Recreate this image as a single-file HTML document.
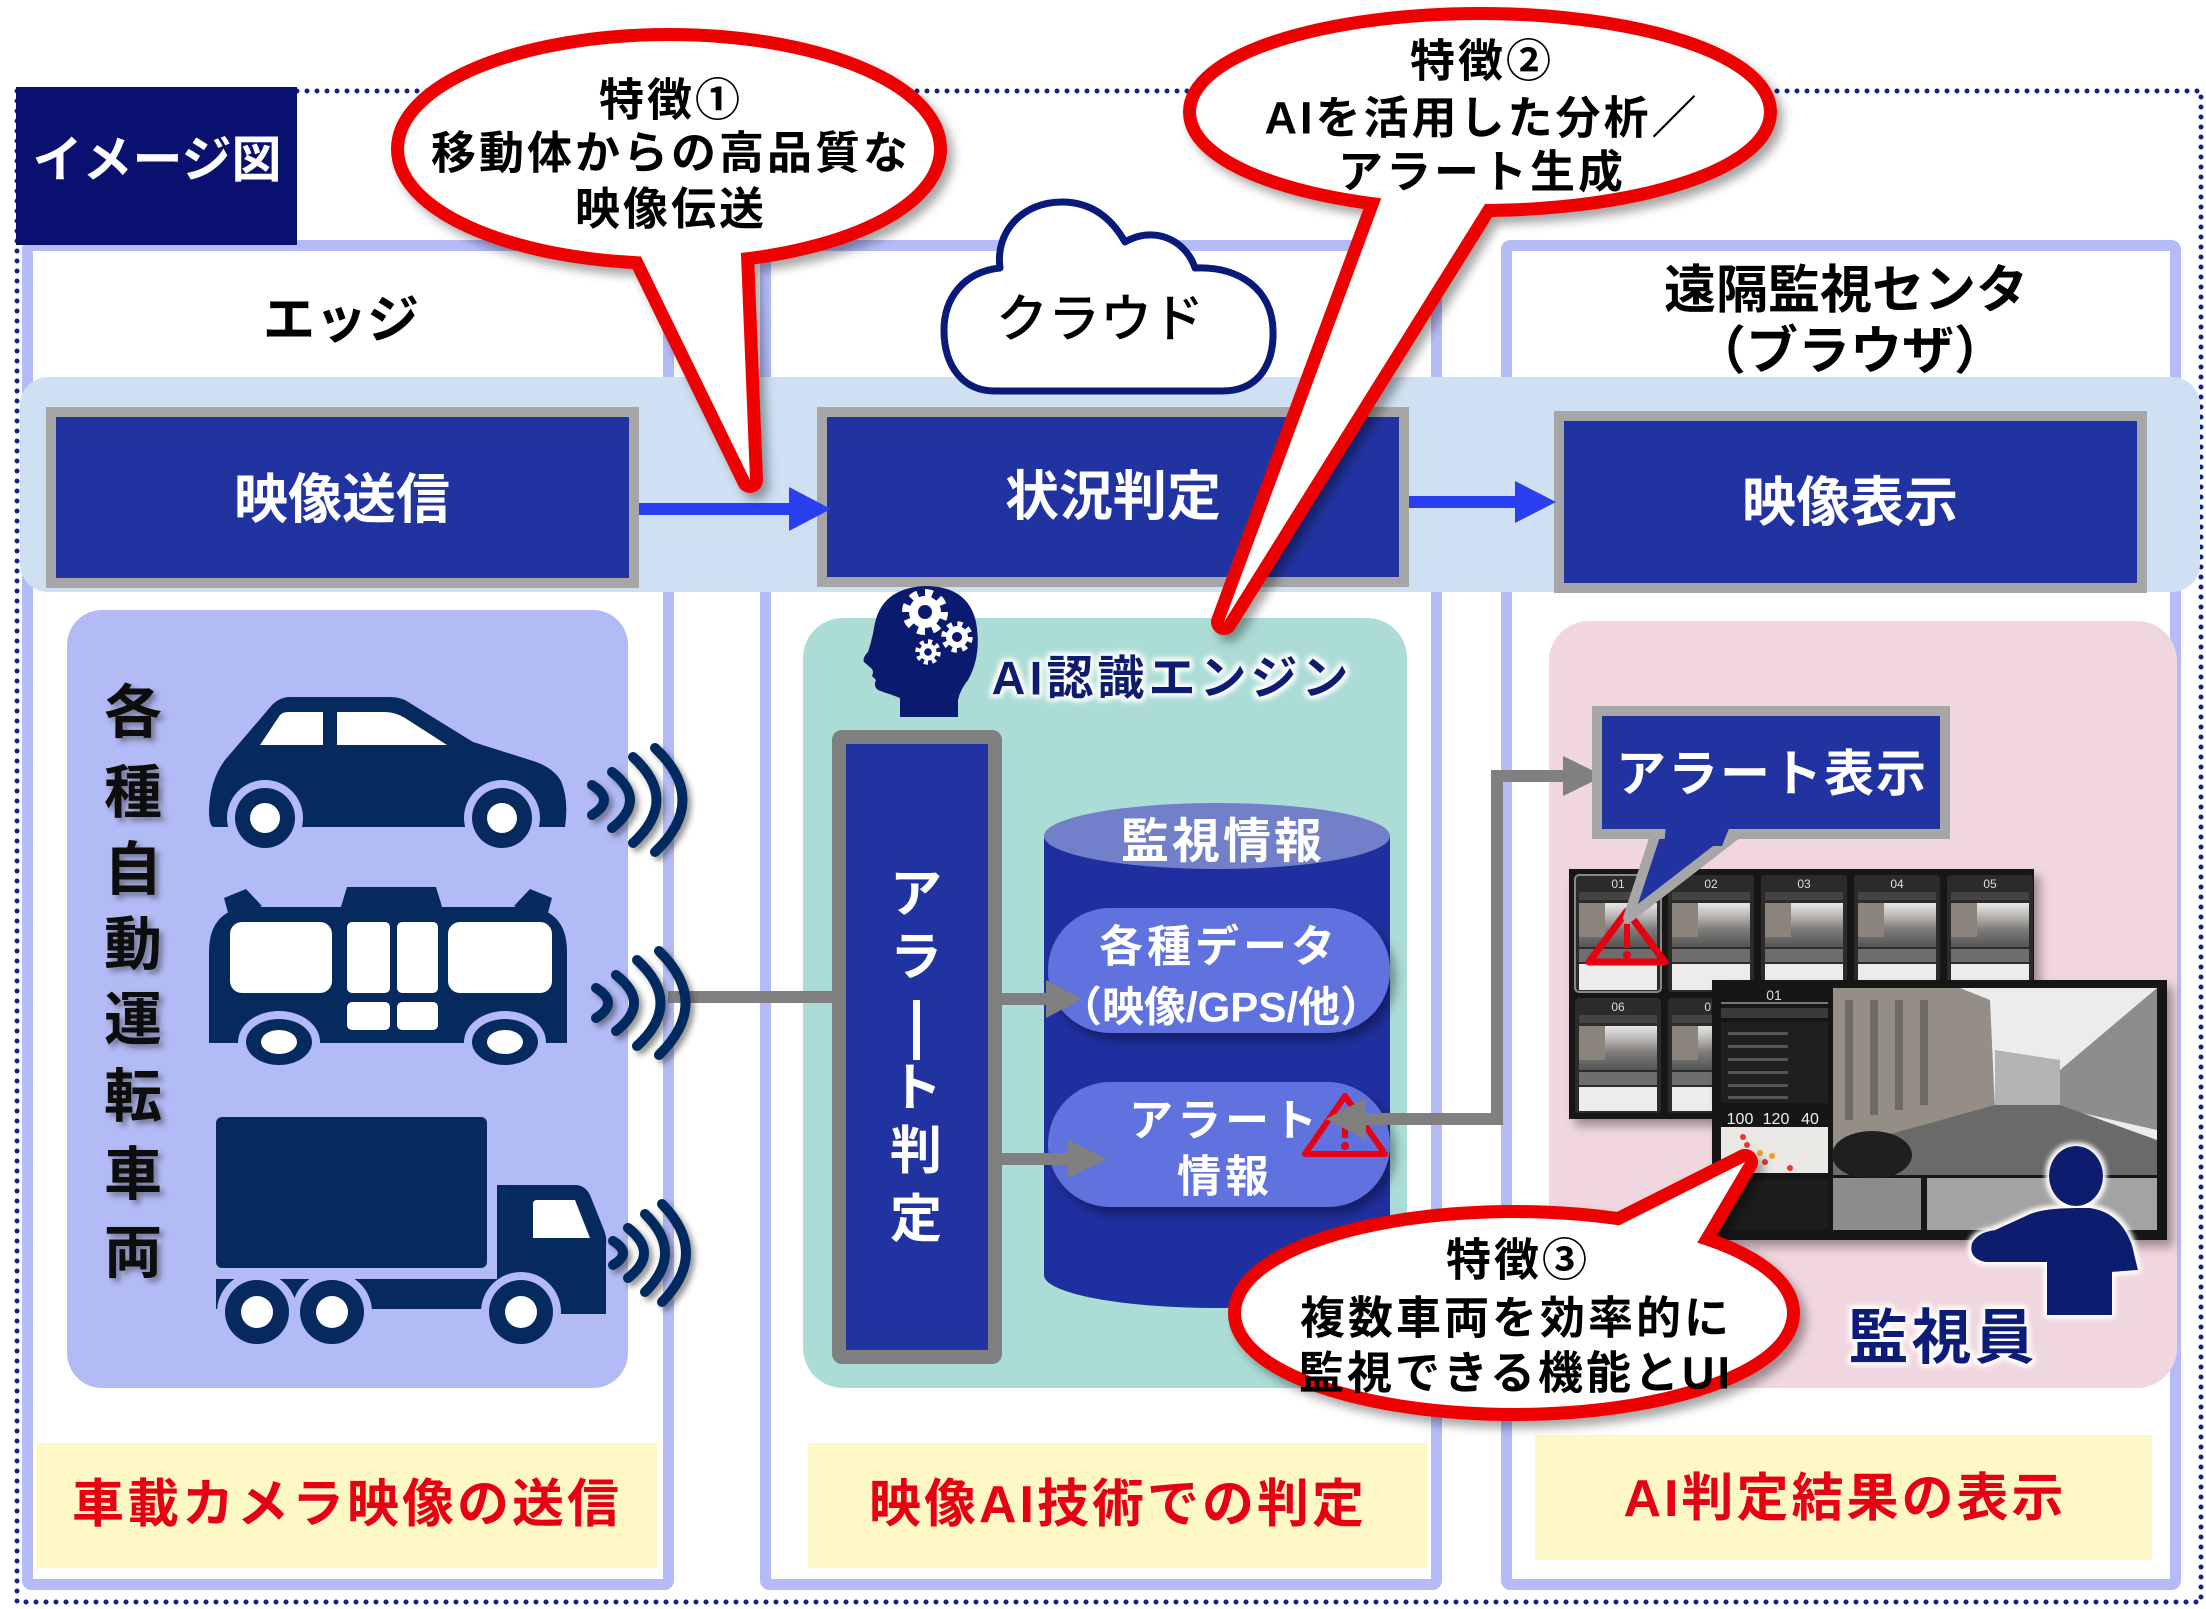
<!DOCTYPE html>
<html><head><meta charset="utf-8">
<style>
html,body{margin:0;padding:0;background:#fff;}
svg{display:block;}
text{font-family:"Liberation Sans","Noto Sans CJK JP",sans-serif;}
</style></head>
<body>
<svg width="2206" height="1609" viewBox="0 0 2206 1609" xmlns="http://www.w3.org/2000/svg">
<defs>
  <filter id="sh" x="-20%" y="-20%" width="150%" height="150%">
    <feGaussianBlur in="SourceAlpha" stdDeviation="5"/>
    <feOffset dx="6" dy="7" result="o"/>
    <feFlood flood-color="#000" flood-opacity="0.35"/>
    <feComposite in2="o" operator="in"/>
    <feMerge><feMergeNode/><feMergeNode in="SourceGraphic"/></feMerge>
  </filter>
  <filter id="tsh" x="-30%" y="-30%" width="160%" height="160%">
    <feGaussianBlur in="SourceAlpha" stdDeviation="3"/>
    <feOffset dx="4" dy="4" result="o"/>
    <feFlood flood-color="#333" flood-opacity="0.5"/>
    <feComposite in2="o" operator="in"/>
    <feMerge><feMergeNode/><feMergeNode in="SourceGraphic"/></feMerge>
  </filter>
  <filter id="glow" x="-20%" y="-30%" width="140%" height="160%">
    <feMorphology in="SourceAlpha" operator="dilate" radius="2"/>
    <feGaussianBlur stdDeviation="3" result="b"/>
    <feFlood flood-color="#fff"/>
    <feComposite in2="b" operator="in"/>
    <feMerge><feMergeNode/><feMergeNode/><feMergeNode in="SourceGraphic"/></feMerge>
  </filter>
  <linearGradient id="street" x1="0" y1="0" x2="0" y2="1">
    <stop offset="0" stop-color="#e8e8e8"/>
    <stop offset="0.3" stop-color="#b9b6b2"/>
    <stop offset="0.6" stop-color="#7d7c7a"/>
    <stop offset="1" stop-color="#555"/>
  </linearGradient>
</defs>

<!-- dotted outer border -->
<rect x="17" y="91" width="2184" height="1511" fill="none" stroke="#12208a" stroke-width="5" stroke-dasharray="0 10" stroke-linecap="round"/>

<!-- columns -->
<rect x="27.5" y="245.5" width="641" height="1339" rx="4" fill="#fff" stroke="#b4bbf7" stroke-width="11"/>
<rect x="765.5" y="245.5" width="671" height="1339" rx="4" fill="#fff" stroke="#b4bbf7" stroke-width="11"/>
<rect x="1506.5" y="245.5" width="669" height="1339" rx="4" fill="#fff" stroke="#b4bbf7" stroke-width="11"/>

<!-- title box -->
<rect x="16" y="87" width="281" height="158" fill="#0a1070"/>
<text x="157" y="160" font-size="50" font-weight="bold" fill="#fff" text-anchor="middle" dominant-baseline="central">イメージ図</text>

<!-- headers -->
<text x="341" y="321" font-size="52" font-weight="bold" fill="#000" text-anchor="middle" dominant-baseline="central">エッジ</text>
<text x="1846" y="291" font-size="52" font-weight="bold" fill="#000" text-anchor="middle" dominant-baseline="central">遠隔監視センタ</text>
<text x="1850" y="352" font-size="52" font-weight="bold" fill="#000" text-anchor="middle" dominant-baseline="central">（ブラウザ）</text>

<!-- band -->
<rect x="20" y="377" width="2180" height="215" rx="28" fill="#cfe0f2"/>

<!-- cloud -->
<path d="M995,391 L1222,391 C1262,391 1274,360 1273,330 C1272,290 1240,266 1195,268 C1185,238 1152,226 1125,242 C1108,212 1085,202 1062,202 C1022,202 995,232 1000,268 C962,272 944,300 944,330 C944,365 962,391 995,391 Z" fill="#fff" stroke="#0a1a7a" stroke-width="7" stroke-linejoin="round"/>
<text x="1100" y="320" font-size="52" font-weight="500" fill="#000" text-anchor="middle" dominant-baseline="central">クラウド</text>

<!-- top boxes -->
<rect x="51" y="412" width="583" height="171" fill="#2133a1" stroke="#a6a6a6" stroke-width="10"/>
<text x="342" y="500" font-size="54" font-weight="bold" fill="#fff" text-anchor="middle" dominant-baseline="central">映像送信</text>
<rect x="822" y="412" width="582" height="170" fill="#2133a1" stroke="#a6a6a6" stroke-width="10"/>
<text x="1113" y="497" font-size="54" font-weight="bold" fill="#fff" text-anchor="middle" dominant-baseline="central">状況判定</text>
<rect x="1559" y="416" width="583" height="172" fill="#2133a1" stroke="#a6a6a6" stroke-width="10"/>
<text x="1850" y="503" font-size="54" font-weight="bold" fill="#fff" text-anchor="middle" dominant-baseline="central">映像表示</text>

<!-- blue arrows -->
<line x1="639" y1="509" x2="795" y2="509" stroke="#2a3ff0" stroke-width="12"/>
<polygon points="789,487 831,509 789,531" fill="#2a3ff0"/>
<line x1="1409" y1="502" x2="1520" y2="502" stroke="#2a3ff0" stroke-width="12"/>
<polygon points="1515,481 1556,502 1515,523" fill="#2a3ff0"/>

<!-- panels -->
<rect x="67" y="610" width="561" height="778" rx="35" fill="#b3bbf7"/>
<rect x="803" y="618" width="604" height="770" rx="40" fill="#acdcd6"/>
<rect x="1549" y="621" width="628" height="767" rx="40" fill="#f0d6df"/>

<!-- yellow boxes -->
<rect x="36" y="1443" width="621" height="125" fill="#fef7c6"/>
<text x="347" y="1505" font-size="52" font-weight="bold" fill="#e60012" text-anchor="middle" dominant-baseline="central" letter-spacing="3">車載カメラ映像の送信</text>
<rect x="808" y="1443" width="619" height="125" fill="#fef7c6"/>
<text x="1118" y="1505" font-size="52" font-weight="bold" fill="#e60012" text-anchor="middle" dominant-baseline="central" letter-spacing="3">映像AI技術での判定</text>
<rect x="1535" y="1435" width="617" height="125" fill="#fef7c6"/>
<text x="1845" y="1499" font-size="52" font-weight="bold" fill="#e60012" text-anchor="middle" dominant-baseline="central" letter-spacing="3">AI判定結果の表示</text>

<!-- vertical text vehicles -->
<g filter="url(#tsh)" font-size="58" font-weight="bold" fill="#111" text-anchor="middle">
  <text x="133" y="713" dominant-baseline="central">各</text>
  <text x="133" y="793" dominant-baseline="central">種</text>
  <text x="133" y="870" dominant-baseline="central">自</text>
  <text x="133" y="945" dominant-baseline="central">動</text>
  <text x="133" y="1020" dominant-baseline="central">運</text>
  <text x="133" y="1097" dominant-baseline="central">転</text>
  <text x="133" y="1175" dominant-baseline="central">車</text>
  <text x="133" y="1253" dominant-baseline="central">両</text>
</g>

<!-- gray connector from bus -->
<line x1="668" y1="997" x2="840" y2="997" stroke="#808080" stroke-width="12"/>

<!-- car -->
<path d="M214,827 L565,827 Q569,800 561,781 Q552,766 530,760 L473,742 L405,700 Q398,697 390,697 L290,697 Q280,697 272,705 L225,760 Q210,780 209,810 Q209,827 214,827 Z" fill="#062a5e"/>
<path d="M260,745 L280,715 Q283,712 288,712 L323,712 L323,745 Z" fill="#fff"/>
<path d="M337,712 L385,712 Q395,712 405,718 L447,745 L337,745 Z" fill="#fff"/>
<circle cx="265" cy="818" r="38" fill="#b3bbf7"/><circle cx="265" cy="818" r="30" fill="#062a5e"/><circle cx="265" cy="818" r="15" fill="#fff"/>
<circle cx="502" cy="818" r="38" fill="#b3bbf7"/><circle cx="502" cy="818" r="30" fill="#062a5e"/><circle cx="502" cy="818" r="15" fill="#fff"/>

<!-- bus -->
<g fill="#062a5e">
  <path d="M209,1043 L209,952 Q209,907 254,907 L522,907 Q567,907 567,952 L567,1043 Z"/>
  <path d="M340,910 L347,887 L436,887 L443,910 Z"/>
  <path d="M230,920 L224,898 L246,889 L262,906 Z"/>
  <path d="M546,920 L552,898 L530,889 L514,906 Z"/>
</g>
<rect x="230" y="922" width="102" height="71" rx="12" fill="#fff"/>
<rect x="347" y="922" width="43" height="71" rx="5" fill="#fff"/>
<rect x="397" y="922" width="41" height="71" rx="5" fill="#fff"/>
<rect x="347" y="1002" width="43" height="28" rx="5" fill="#fff"/>
<rect x="397" y="1002" width="41" height="28" rx="5" fill="#fff"/>
<rect x="448" y="922" width="104" height="71" rx="12" fill="#fff"/>
<ellipse cx="279" cy="1042" rx="41" ry="31" fill="#b3bbf7"/><ellipse cx="279" cy="1042" rx="33" ry="23" fill="#062a5e"/><ellipse cx="279" cy="1042" rx="18" ry="12" fill="#fff"/>
<ellipse cx="505" cy="1042" rx="41" ry="31" fill="#b3bbf7"/><ellipse cx="505" cy="1042" rx="33" ry="23" fill="#062a5e"/><ellipse cx="505" cy="1042" rx="18" ry="12" fill="#fff"/>

<!-- truck -->
<g fill="#062a5e">
  <rect x="216" y="1117" width="271" height="151" rx="6"/>
  <path d="M497,1185 L575,1185 Q585,1185 590,1195 L604,1230 Q607,1237 606,1246 L606,1314 L497,1314 Z"/>
  <rect x="216" y="1279" width="390" height="30"/>
</g>
<path d="M533,1204 Q533,1200 537,1200 L575,1200 L590,1238 L533,1238 Z" fill="#fff"/>
<circle cx="257" cy="1312" r="40" fill="#b3bbf7"/><circle cx="257" cy="1312" r="32" fill="#062a5e"/><circle cx="257" cy="1312" r="16" fill="#fff"/>
<circle cx="332" cy="1312" r="40" fill="#b3bbf7"/><circle cx="332" cy="1312" r="32" fill="#062a5e"/><circle cx="332" cy="1312" r="16" fill="#fff"/>
<circle cx="521" cy="1312" r="40" fill="#b3bbf7"/><circle cx="521" cy="1312" r="32" fill="#062a5e"/><circle cx="521" cy="1312" r="16" fill="#fff"/>

<!-- waves -->
<g fill="none" stroke="#062a5e" stroke-width="10" stroke-linecap="round" filter="url(#tsh)">
  <path d="M592,785 Q616,800 592,815"/>
  <path d="M612,772 Q648,800 612,828"/>
  <path d="M633,757 Q680,800 633,843"/>
  <path d="M655,748 Q710,800 655,852"/>
  <path d="M596,988 Q620,1003 596,1018"/>
  <path d="M616,975 Q652,1003 616,1031"/>
  <path d="M637,960 Q684,1003 637,1046"/>
  <path d="M659,951 Q712,1003 659,1055"/>
  <path d="M613,1241 Q633,1253 613,1265"/>
  <path d="M628,1228 Q660,1253 628,1278"/>
  <path d="M645,1214 Q685,1253 645,1292"/>
  <path d="M662,1204 Q710,1253 662,1302"/>
</g>

<!-- head icon -->
<path d="M900,717 L900,698 Q890,694 886,693 L878,690 Q873,686 876,680 L872,676 Q874,672 872,669 L864,662 Q862,658 868,652 Q872,640 874,628 Q880,588 925,586 Q968,586 976,622 Q982,655 968,680 Q960,690 958,700 L958,717 Z" fill="#0a1a6e"/>
<g>
  <circle cx="925" cy="612" r="16" fill="#fff"/>
  <circle cx="925" cy="612" r="19" fill="none" stroke="#fff" stroke-width="8" stroke-dasharray="7.5 7.4"/>
  <circle cx="925" cy="612" r="7" fill="#0a1a6e"/>
  <circle cx="957" cy="637" r="11" fill="#fff"/>
  <circle cx="957" cy="637" r="13" fill="none" stroke="#fff" stroke-width="5.5" stroke-dasharray="5.1 5.1"/>
  <circle cx="957" cy="637" r="5" fill="#0a1a6e"/>
  <circle cx="928" cy="652" r="8.5" fill="#fff"/>
  <circle cx="928" cy="652" r="10.5" fill="none" stroke="#fff" stroke-width="4.5" stroke-dasharray="4.1 4.1"/>
  <circle cx="928" cy="652" r="3.8" fill="#0a1a6e"/>
</g>
<text x="1172" y="678" font-size="47" font-weight="bold" fill="#0d1a70" text-anchor="middle" dominant-baseline="central" letter-spacing="4" filter="url(#glow)">AI認識エンジン</text>

<!-- alert judge box -->
<rect x="839" y="737" width="156" height="620" rx="3" fill="#2133a1" stroke="#7f7f7f" stroke-width="14"/>
<g font-size="52" font-weight="bold" fill="#fff" text-anchor="middle">
  <text x="916" y="895" dominant-baseline="central">ア</text>
  <text x="916" y="958" dominant-baseline="central">ラ</text>
  <text x="916" y="1089" dominant-baseline="central">ト</text>
  <text x="916" y="1152" dominant-baseline="central">判</text>
  <text x="916" y="1220" dominant-baseline="central">定</text>
</g>
<rect x="913" y="1000" width="7" height="60" fill="#fff"/>

<!-- cylinder -->
<path d="M1044,836 L1044,1275 A173,33 0 0,0 1390,1275 L1390,836 Z" fill="#1f2f9f"/>
<ellipse cx="1217" cy="836" rx="173" ry="33" fill="#7180c9"/>
<text x="1223" y="842" font-size="48" font-weight="bold" fill="#fff" text-anchor="middle" dominant-baseline="central" letter-spacing="3">監視情報</text>
<g filter="url(#sh)">
  <rect x="1048" y="908" width="342" height="125" rx="62" fill="#6172dd"/>
  <rect x="1048" y="1082" width="342" height="125" rx="62" fill="#6172dd"/>
</g>
<text x="1219" y="947" font-size="44" font-weight="bold" fill="#fff" text-anchor="middle" dominant-baseline="central" letter-spacing="4">各種データ</text>
<text x="1221" y="1007" font-size="42" font-weight="bold" fill="#fff" text-anchor="middle" dominant-baseline="central">（映像/GPS/他）</text>
<text x="1225" y="1121" font-size="44" font-weight="bold" fill="#fff" text-anchor="middle" dominant-baseline="central" letter-spacing="4">アラート</text>
<text x="1225" y="1177" font-size="44" font-weight="bold" fill="#fff" text-anchor="middle" dominant-baseline="central" letter-spacing="4">情報</text>
<polygon points="1345,1096 1385,1154 1305,1154" fill="none" stroke="#e60012" stroke-width="6" stroke-linejoin="round"/>
<rect x="1342" y="1110" width="6" height="28" fill="#e60012"/>
<circle cx="1345" cy="1146" r="4" fill="#e60012"/>

<!-- gray arrows in cloud column -->
<line x1="1002" y1="999" x2="1050" y2="999" stroke="#808080" stroke-width="12"/>
<polygon points="1046,980 1082,999 1046,1018" fill="#808080"/>
<line x1="1002" y1="1159" x2="1072" y2="1159" stroke="#808080" stroke-width="12"/>
<polygon points="1068,1140 1107,1159 1068,1178" fill="#808080"/>

<!-- connector between cloud & center -->
<polyline points="1365,1119 1497,1119 1497,776 1566,776" fill="none" stroke="#808080" stroke-width="12" stroke-linejoin="miter"/>
<polygon points="1366,1098 1326,1119 1366,1140" fill="#808080"/>
<polygon points="1563,756 1604,776 1563,796" fill="#808080"/>

<!-- screenshot back panel -->
<g filter="url(#sh)">
  <rect x="1569" y="869" width="465" height="250" fill="#161616"/>
</g>
<g font-size="12" fill="#ddd" text-anchor="middle">
  <rect x="1575" y="875" width="86" height="117" rx="4" fill="#2b2b2b" stroke="#888" stroke-width="2"/>
  <rect x="1668" y="875" width="86" height="117" rx="4" fill="#2b2b2b"/>
  <rect x="1761" y="875" width="86" height="117" rx="4" fill="#2b2b2b"/>
  <rect x="1854" y="875" width="86" height="117" rx="4" fill="#2b2b2b"/>
  <rect x="1947" y="875" width="86" height="117" rx="4" fill="#2b2b2b"/>
  <rect x="1575" y="998" width="86" height="115" rx="4" fill="#2b2b2b"/>
  <rect x="1668" y="998" width="86" height="115" rx="4" fill="#2b2b2b"/>
  <text x="1618" y="888">01</text><text x="1711" y="888">02</text><text x="1804" y="888">03</text><text x="1897" y="888">04</text><text x="1990" y="888">05</text>
  <text x="1618" y="1011">06</text><text x="1711" y="1011">07</text>
  <g fill="#444">
    <rect x="1579" y="892" width="78" height="8"/><rect x="1672" y="892" width="78" height="8"/><rect x="1765" y="892" width="78" height="8"/><rect x="1858" y="892" width="78" height="8"/><rect x="1951" y="892" width="78" height="8"/>
    <rect x="1579" y="1015" width="78" height="8"/><rect x="1672" y="1015" width="78" height="8"/>
  </g>
  <g fill="url(#street)">
    <rect x="1579" y="903" width="78" height="44"/><rect x="1672" y="903" width="78" height="44"/><rect x="1765" y="903" width="78" height="44"/><rect x="1858" y="903" width="78" height="44"/><rect x="1951" y="903" width="78" height="44"/>
    <rect x="1579" y="1026" width="78" height="44"/><rect x="1672" y="1026" width="78" height="44"/>
  </g>
  <g fill="#8a847c">
    <rect x="1579" y="903" width="26" height="34"/><rect x="1672" y="903" width="26" height="34"/><rect x="1765" y="903" width="26" height="34"/><rect x="1858" y="903" width="26" height="34"/><rect x="1951" y="903" width="26" height="34"/>
    <rect x="1579" y="1026" width="26" height="34"/><rect x="1672" y="1026" width="26" height="34"/>
  </g>
  <g fill="#6d6d6d">
    <rect x="1579" y="949" width="78" height="13"/><rect x="1672" y="949" width="78" height="13"/><rect x="1765" y="949" width="78" height="13"/><rect x="1858" y="949" width="78" height="13"/><rect x="1951" y="949" width="78" height="13"/>
    <rect x="1579" y="1072" width="78" height="13"/><rect x="1672" y="1072" width="78" height="13"/>
  </g>
  <g fill="#ececec">
    <rect x="1579" y="964" width="78" height="26"/><rect x="1672" y="964" width="78" height="26"/><rect x="1765" y="964" width="78" height="26"/><rect x="1858" y="964" width="78" height="26"/><rect x="1951" y="964" width="78" height="26"/>
    <rect x="1579" y="1087" width="78" height="24"/><rect x="1672" y="1087" width="78" height="24"/>
  </g>
</g>
<polygon points="1627,911 1665,962 1589,962" fill="none" stroke="#e60012" stroke-width="7" stroke-linejoin="round"/>
<rect x="1624" y="924" width="6" height="24" fill="#e60012"/>
<circle cx="1627" cy="955" r="4" fill="#e60012"/>

<!-- screenshot front panel -->
<g filter="url(#sh)">
  <rect x="1712" y="980" width="455" height="260" fill="#121212"/>
</g>
<text x="1774" y="995" font-size="14" fill="#ddd" text-anchor="middle" dominant-baseline="central">01</text>
<rect x="1721" y="1002" width="107" height="2" fill="#777"/>
<rect x="1721" y="1008" width="107" height="10" fill="#3a3a3a"/>
<rect x="1721" y="1022" width="107" height="81" fill="#1f1f1f"/>
<g fill="#555"><rect x="1728" y="1032" width="60" height="3"/><rect x="1728" y="1045" width="60" height="3"/><rect x="1728" y="1058" width="60" height="3"/><rect x="1728" y="1071" width="60" height="3"/><rect x="1728" y="1084" width="60" height="3"/><rect x="1728" y="1096" width="60" height="3"/></g>
<g font-size="16" fill="#eee" text-anchor="middle"><text x="1740" y="1124">100</text><text x="1776" y="1124">120</text><text x="1810" y="1124">40</text></g>
<rect x="1721" y="1127" width="107" height="46" fill="#e9e8e4"/>
<g fill="#e33"><circle cx="1743" cy="1137" r="3"/><circle cx="1747" cy="1145" r="3"/><circle cx="1765" cy="1162" r="3"/><circle cx="1790" cy="1168" r="3"/></g>
<g fill="#f0a020"><circle cx="1760" cy="1153" r="3"/><circle cx="1772" cy="1156" r="3"/></g>
<rect x="1721" y="1180" width="107" height="50" fill="#1c1c1c"/>
<rect x="1833" y="988" width="324" height="187" fill="#ececec"/>
<polygon points="1833,988 1960,988 1990,1000 1995,1110 1833,1150" fill="#958e86"/>
<g fill="#6f6a64"><rect x="1845" y="1000" width="8" height="120"/><rect x="1870" y="1000" width="8" height="115"/><rect x="1895" y="1000" width="8" height="110"/><rect x="1920" y="1000" width="8" height="105"/></g>
<polygon points="1995,1050 2060,1060 2060,1108 1995,1110" fill="#b4b4b4"/>
<polygon points="2060,1070 2157,988 2157,1130 2060,1108" fill="#8d8d8d"/>
<polygon points="1833,1175 1833,1150 1995,1105 2060,1105 2157,1140 2157,1175" fill="#6a6a6a"/>
<ellipse cx="1872" cy="1155" rx="40" ry="24" fill="#1e1e1e"/>
<rect x="1833" y="1178" width="88" height="52" fill="#8c8c8c"/>
<rect x="1927" y="1178" width="230" height="52" fill="#a3a3a3"/>

<!-- alert display box -->
<polygon points="1657,830 1742,830 1628,918" fill="#2133a1" stroke="#a6a6a6" stroke-width="10" stroke-linejoin="round"/>
<rect x="1597" y="711" width="348" height="123" fill="#2133a1" stroke="#a6a6a6" stroke-width="10"/>
<polygon points="1666,826 1730,826 1722,846 1664,846" fill="#2133a1"/>
<text x="1772" y="774" font-size="50" font-weight="bold" fill="#fff" text-anchor="middle" dominant-baseline="central" letter-spacing="2">アラート表示</text>

<!-- person -->
<g fill="#0a1a6e" filter="url(#glow)">
  <ellipse cx="2076" cy="1176" rx="27" ry="30"/>
  <path d="M2047,1315 L2047,1262 L1985,1262 Q1968,1258 1972,1243 Q1978,1232 1995,1230 L2030,1214 Q2045,1208 2075,1208 L2090,1208 Q2120,1212 2132,1245 L2138,1270 L2112,1272 L2112,1315 Z"/>
</g>
<text x="1943" y="1338" font-size="60" font-weight="bold" fill="#0a1a78" text-anchor="middle" dominant-baseline="central" letter-spacing="3" filter="url(#glow)">監視員</text>

<!-- callout 1 -->
<g filter="url(#sh)">
  <ellipse cx="669" cy="149" rx="265" ry="108" fill="#fff" stroke="#ee0000" stroke-width="26"/>
  <path d="M628,230 L750,480 L740,230 Z" fill="#fff" stroke="#ee0000" stroke-width="26" stroke-linejoin="round"/>
</g>
<ellipse cx="669" cy="149" rx="265" ry="108" fill="#fff"/>
<path d="M628,230 L750,480 L740,230 Z" fill="#fff"/>
<g font-size="45" font-weight="bold" fill="#000" text-anchor="middle" letter-spacing="3">
  <text x="671" y="100" dominant-baseline="central">特徴①</text>
  <text x="671" y="153" dominant-baseline="central">移動体からの高品質な</text>
  <text x="671" y="209" dominant-baseline="central">映像伝送</text>
</g>

<!-- callout 2 -->
<g filter="url(#sh)">
  <ellipse cx="1480" cy="112" rx="284" ry="92" fill="#fff" stroke="#ee0000" stroke-width="26"/>
  <path d="M1385,188 L1224,622 L1495,188 Z" fill="#fff" stroke="#ee0000" stroke-width="26" stroke-linejoin="round"/>
</g>
<ellipse cx="1480" cy="112" rx="284" ry="92" fill="#fff"/>
<path d="M1385,188 L1224,622 L1495,188 Z" fill="#fff"/>
<g font-size="45" font-weight="bold" fill="#000" text-anchor="middle" letter-spacing="3">
  <text x="1482" y="61" dominant-baseline="central">特徴②</text>
  <text x="1482" y="118" dominant-baseline="central">AIを活用した分析／</text>
  <text x="1482" y="172" dominant-baseline="central">アラート生成</text>
</g>

<!-- callout 3 -->
<g filter="url(#sh)">
  <ellipse cx="1514" cy="1313" rx="273" ry="95" fill="#fff" stroke="#ee0000" stroke-width="26"/>
  <path d="M1600,1235 L1745,1162 L1690,1255 Z" fill="#fff" stroke="#ee0000" stroke-width="26" stroke-linejoin="round"/>
</g>
<ellipse cx="1514" cy="1313" rx="273" ry="95" fill="#fff"/>
<path d="M1600,1235 L1745,1162 L1690,1255 Z" fill="#fff"/>
<g font-size="45" font-weight="bold" fill="#000" text-anchor="middle" letter-spacing="3">
  <text x="1518" y="1260" dominant-baseline="central">特徴③</text>
  <text x="1516" y="1318" dominant-baseline="central">複数車両を効率的に</text>
  <text x="1516" y="1373" dominant-baseline="central">監視できる機能とUI</text>
</g>
</svg>
</body></html>
